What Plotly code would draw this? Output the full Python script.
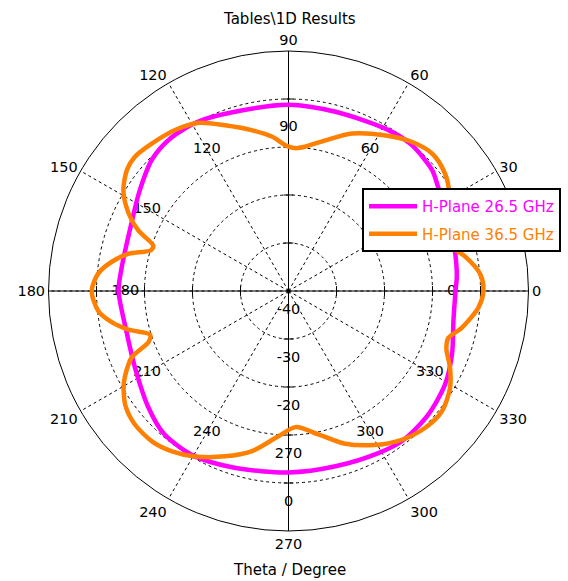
import plotly.graph_objects as go

# H-plane far-field cuts, theta in degrees, level in dB
theta_265 = [0, 5, 14, 25, 35, 40, 50, 59, 75, 90, 107, 118, 128, 136, 146, 157,
             172, 180, 194, 207, 220, 229, 240, 253, 270, 285, 299, 307, 318,
             329, 339, 350, 360]
level_265 = [-5.2, -4.8, -4.3, -3.2, -2.0, -0.9, -0.2, -0.6, -1.4, -1.2, -1.0,
             0.0, 0.2, -0.5, -2.6, -4.4, -4.9, -4.6, -5.2, -4.2, -2.0, -0.5,
             -0.4, -1.5, -2.2, -2.2, -1.4, -0.8, -1.1, -2.0, -3.5, -5.1, -5.2]

theta_365 = [0, 5, 11, 15, 20, 26, 33, 39, 44, 50.5, 58, 68, 76, 83.5, 87, 91,
             96, 103, 111, 118, 125, 133, 139, 143, 148.6, 154, 158, 161.5,
             163.5, 167, 170.6, 174.7, 180, 186, 190, 193.6, 197.5, 200, 203,
             209, 215, 221, 228, 234, 240.5, 249, 257, 266, 273, 282, 290, 299,
             307, 315, 322, 329, 334.5, 340, 343.6, 348, 355, 360]
level_365 = [0.6, 0.1, -2.5, -4.8, -6.5, -4.0, -0.25, 1.1, 1.4, 0.3, -1.8, -4.6,
             -7.6, -9.75, -10.2, -9.7, -7.7, -5.6, -3.0, -0.3, 1.0, 1.9, 2.5,
             2.1, 0.3, -2.9, -6.2, -10.3, -10.1, -5.7, -2.7, -0.2, 1.0, -0.15,
             -2.6, -5.7, -9.75, -9.0, -4.5, -0.8, 1.5, 2.4, 2.3, 1.3, -0.4,
             -3.1, -5.7, -9.65, -11.6, -9.4, -6.2, -3.3, -1.1, 0.3, 0.6, -0.75,
             -2.7, -5.0, -5.3, -3.1, -0.3, 0.6]

# Axis setup
radial_range = [-40, 10]
radial_grid = [-30, -20, -10, 0]
radial_labels = [-40, -30, -20, 0]
radial_label_shift = 4
angle_ticks = list(range(0, 360, 30))
inner_angle_labels = [0, 60, 90, 120, 150, 180, 210, 240, 270, 300, 330]
cross_angles = [0, 90, 180, 270]
inner_label_level = -6

FONT = "DejaVu Sans"
MAGENTA = "#FF00FF"
ORANGE = "#FF8000"

fig = go.Figure()

# solid cross-hair through the centre
for ang in cross_angles:
    fig.add_trace(go.Scatterpolar(
        r=radial_range, theta=[ang, ang], mode="lines",
        line=dict(color="black", width=1), showlegend=False, hoverinfo="skip"))

# small tick marks where the rings cross the cross-hair
for ang in cross_angles:
    sym = "line-ns" if ang in (0, 180) else "line-ew"
    fig.add_trace(go.Scatterpolar(
        r=radial_grid, theta=[ang] * len(radial_grid), mode="markers",
        marker=dict(symbol=sym, size=7, line=dict(color="black", width=1)),
        showlegend=False, hoverinfo="skip"))

# angle labels on the inner ring
fig.add_trace(go.Scatterpolar(
    r=[inner_label_level] * len(inner_angle_labels), theta=inner_angle_labels,
    mode="text", text=[str(a) for a in inner_angle_labels],
    textfont=dict(family=FONT, size=14.5, color="black"),
    showlegend=False, hoverinfo="skip"))

# level labels along the downward axis
fig.add_trace(go.Scatterpolar(
    r=[v + radial_label_shift for v in radial_labels],
    theta=[270] * len(radial_labels), mode="text",
    text=[str(v) for v in radial_labels],
    textfont=dict(family=FONT, size=14.5, color="black"),
    showlegend=False, hoverinfo="skip"))

fig.add_trace(go.Scatterpolar(
    r=level_265, theta=theta_265, mode="lines",
    line=dict(color=MAGENTA, width=4.5, shape="spline", smoothing=0.8),
    name=f"<span style='color:{MAGENTA}'>H-Plane 26.5 GHz</span>",
    legendgroup="a"))
fig.add_trace(go.Scatterpolar(
    r=level_365, theta=theta_365, mode="lines",
    line=dict(color=ORANGE, width=4.5, shape="spline", smoothing=0.8),
    name=f"<span style='color:{ORANGE}'>H-Plane 36.5 GHz</span>",
    legendgroup="b"))

W, H = 568, 581
cx, cy, R = 288.5, 291, 240

fig.update_layout(
    width=W, height=H,
    margin=dict(l=0, r=0, t=0, b=0),
    paper_bgcolor="white",
    font=dict(family=FONT, size=14.5, color="black"),
    polar=dict(
        domain=dict(x=[(cx - R) / W, (cx + R) / W],
                    y=[1 - (cy + R) / H, 1 - (cy - R) / H]),
        bgcolor="white",
        radialaxis=dict(range=radial_range, tickvals=radial_grid,
                        showticklabels=False, ticks="", showline=False,
                        showgrid=True, gridcolor="black", gridwidth=1,
                        griddash="3px,3px"),
        angularaxis=dict(direction="counterclockwise", rotation=0,
                         tickvals=angle_ticks,
                         ticktext=[str(a) for a in angle_ticks],
                         ticks="", showline=True, linecolor="black",
                         linewidth=1, showgrid=True, gridcolor="black",
                         gridwidth=1, griddash="3px,3px",
                         tickfont=dict(family=FONT, size=14.5, color="black")),
    ),
    legend=dict(x=362 / W, y=1 - 188 / H, xanchor="left", yanchor="top",
                bgcolor="white", bordercolor="black", borderwidth=2,
                font=dict(family=FONT, size=15), tracegroupgap=5,
                itemwidth=48),
    annotations=[
        dict(text="Tables\\1D Results", x=289 / W, y=1 - 19 / H,
             xref="paper", yref="paper", showarrow=False,
             xanchor="center", yanchor="middle",
             font=dict(family=FONT, size=15, color="black")),
        dict(text="Theta / Degree", x=289 / W, y=1 - 570 / H,
             xref="paper", yref="paper", showarrow=False,
             xanchor="center", yanchor="middle",
             font=dict(family=FONT, size=15, color="black")),
    ],
)

fig.write_html("out.html")
